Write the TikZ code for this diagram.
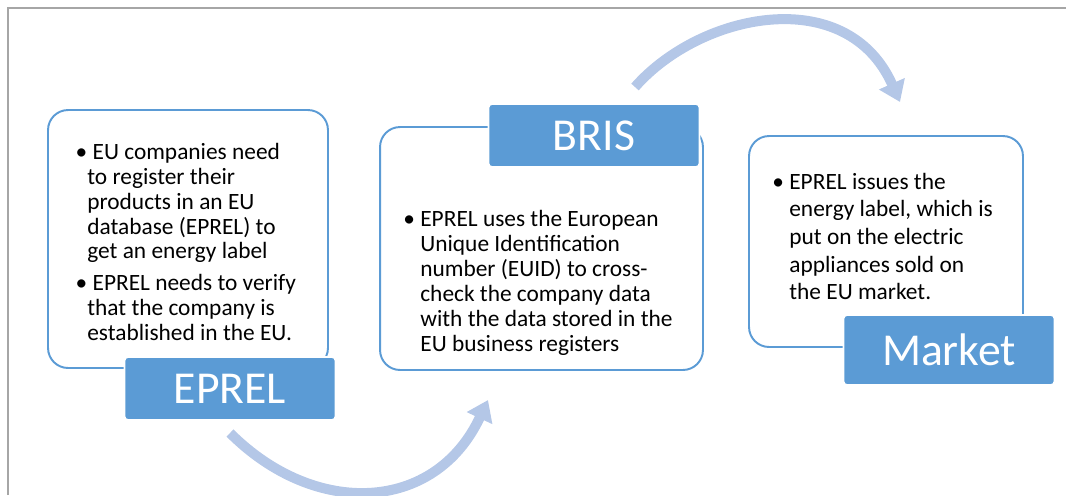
\documentclass[tikz,border=0pt]{standalone}
\usepackage{fontspec}
\setmainfont{Carlito}
\usetikzlibrary{arrows.meta}
\definecolor{tagblue}{HTML}{5B9BD5}
\definecolor{flowblue}{HTML}{B4C7E7}
\definecolor{framegray}{HTML}{A6A6A6}
\begin{document}
\begin{tikzpicture}[x=0.02cm,y=-0.02cm]
			\tikzset{panel/.style = {shape=rectangle,draw=tagblue,line width=1.1pt,fill=white,rounded corners=0.4cm}}
			\tikzset{tag/.style = {shape=rectangle,draw=white,line width=1pt,fill=tagblue,rounded corners=2pt,text=white,font=\fontsize{26}{30}\selectfont,minimum width=4.22cm,minimum height=1.26cm}}
			\tikzset{blurb/.style = {anchor=west,inner sep=0pt,align=left,font=\fontsize{13.3}{14.2}\selectfont}}
			\tikzset{flow/.style = {draw=flowblue,line width=5.7pt,-{Triangle[width=0.54cm,length=0.4cm]}}}
			\useasboundingbox (0,0) rectangle (1066,495);
			\draw[framegray,line width=0.8pt] (8,495) -- (8,8) -- (1066,8);
			% boxes
			\node[panel,minimum width=5.6cm,minimum height=5.16cm] (eu) at (188,239) {};
			\node[panel,minimum width=6.46cm,minimum height=4.86cm] (reg) at (541.5,248.5) {};
			\node[panel,minimum width=5.48cm,minimum height=4.22cm] (mkt) at (886,241.5) {};
			% texts
			\node[blurb] (eutext) at (87,242) {\llap{\textbullet}\ EU companies need\\ to register their\\ products in an EU\\ database (EPREL) to\\ get an energy label\\[4pt] \llap{\textbullet}\ EPREL needs to verify\\ that the company is\\ established in the EU.};
			\node[blurb] (regtext) at (420,283) {\llap{\textbullet\hspace{3pt}}EPREL uses the European\\ Unique Identification\\ number (EUID) to cross-\\ check the company data\\ with the data stored in the\\ EU business registers};
			\node[blurb,font=\fontsize{13.3}{15.7}\selectfont] (mkttext) at (789,236.5) {\llap{\textbullet\hspace{3pt}}EPREL issues the\\ energy label, which is\\ put on the electric\\ appliances sold on\\ the EU market.};
			% labels
			\node[tag] (eprel) at (230,388.5) {EPREL};
			\node[tag] (bris) at (594,135.5) {BRIS};
			\node[tag,minimum height=1.4cm] (market) at (949,350) {Market};
			% arrows
			\coordinate (a1) at (230,433);
			\coordinate (b1) at (488,400);
			\coordinate (a2) at (635,87);
			\coordinate (b2) at (900,102);
			\draw[flow] (a1) .. controls (315,518) and (435,513) .. (b1);
			\draw[flow] (a2) .. controls (701,12) and (847,-17) .. (b2);
		\end{tikzpicture}
\end{document}
